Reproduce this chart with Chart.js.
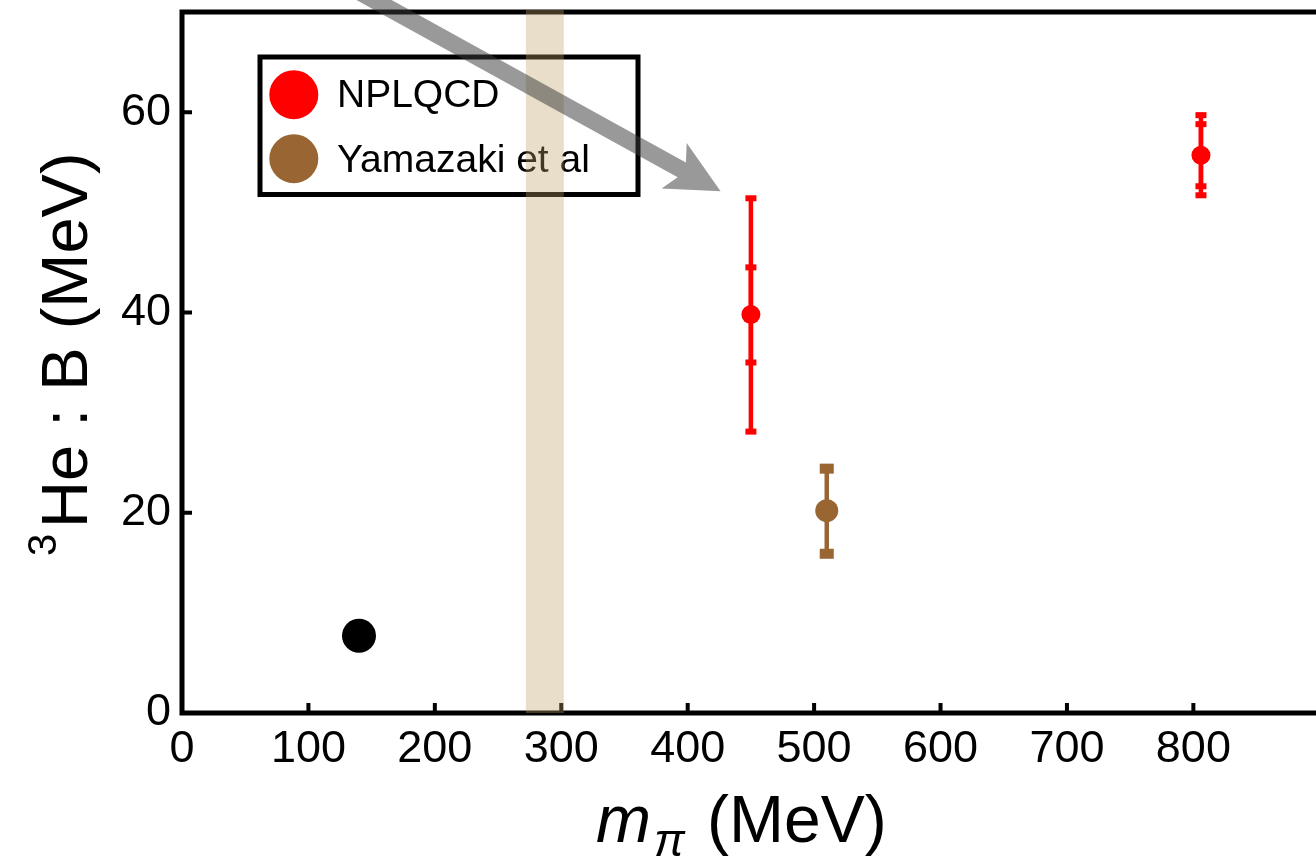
<!DOCTYPE html>
<html>
<head>
<meta charset="utf-8">
<script src="https://cdn.jsdelivr.net/npm/chart.js@4.4.1/dist/chart.umd.min.js"></script>
<style>
  html, body { margin: 0; padding: 0; background: #fff; overflow: hidden; }
  #wrap { width: 1316px; height: 859px; }
</style>
</head>
<body>
<div id="wrap"><canvas id="chart" width="1316" height="859"></canvas></div>
<script>
// data (x = pion mass in MeV, y = 3He binding energy in MeV)
const physX = [140];
const physY = [7.72];

const nplqcdX = [450, 806];
const nplqcdY = [39.8, 55.7];
const nplqcdInnerLo = [35.0, 52.6];
const nplqcdInnerHi = [44.5, 58.8];
const nplqcdOuterLo = [28.1, 51.7];
const nplqcdOuterHi = [51.4, 59.7];

const yamazakiX = [510];
const yamazakiY = [20.2];
const yamazakiLo = [15.9];
const yamazakiHi = [24.4];

// shaded band and arrow, in data units
const bandX = [272, 302];
const arrowFrom = [126, 73];
const arrowTo = [426, 52.1];

const legendLabels = ["NPLQCD", "Yamazaki et al"];
const legendColors = ["#ff0000", "#996633"];

const xTicks = [0, 100, 200, 300, 400, 500, 600, 700, 800];
const yTicks = [0, 20, 40, 60];

const FONT = "'Liberation Sans', Arial, Helvetica, sans-serif";

function toPts(xs, ys) {
  return xs.map((x, i) => ({ x: x, y: ys[i] }));
}

// error bars, drawn under the points
const errorBars = {
  id: 'errorBars',
  beforeDatasetsDraw(chart) {
    const ctx = chart.ctx;
    const xs = chart.scales.x, ys = chart.scales.y;
    function bar(x, lo, hi, color, capW, capH) {
      const px = xs.getPixelForValue(x);
      const pLo = ys.getPixelForValue(lo), pHi = ys.getPixelForValue(hi);
      ctx.strokeStyle = color;
      ctx.lineWidth = 4.5;
      ctx.beginPath();
      ctx.moveTo(px, pLo);
      ctx.lineTo(px, pHi);
      ctx.stroke();
      ctx.fillStyle = color;
      ctx.fillRect(px - capW / 2, pLo - capH / 2, capW, capH);
      ctx.fillRect(px - capW / 2, pHi - capH / 2, capW, capH);
    }
    ctx.save();
    nplqcdX.forEach((x, i) => {
      bar(x, nplqcdOuterLo[i], nplqcdOuterHi[i], legendColors[0], 11, 6);
      bar(x, nplqcdInnerLo[i], nplqcdInnerHi[i], legendColors[0], 11, 6);
    });
    yamazakiX.forEach((x, i) => {
      bar(x, yamazakiLo[i], yamazakiHi[i], legendColors[1], 14, 10);
    });
    ctx.restore();
  }
};

// frame, inward ticks, legend, band, arrow and axis titles
const decorations = {
  id: 'decorations',
  afterDraw(chart) {
    const ctx = chart.ctx;
    const a = chart.chartArea;
    const xs = chart.scales.x, ys = chart.scales.y;
    ctx.save();

    // frame (right side is off the page)
    ctx.strokeStyle = '#000';
    ctx.lineWidth = 5;
    ctx.beginPath();
    ctx.moveTo(a.right + 10, a.top);
    ctx.lineTo(a.left, a.top);
    ctx.lineTo(a.left, a.bottom);
    ctx.lineTo(a.right + 10, a.bottom);
    ctx.stroke();

    // ticks pointing inwards
    ctx.lineWidth = 4;
    ctx.beginPath();
    xTicks.forEach(v => {
      const px = xs.getPixelForValue(v);
      ctx.moveTo(px, a.bottom);
      ctx.lineTo(px, a.bottom - 10);
    });
    yTicks.forEach(v => {
      const py = ys.getPixelForValue(v);
      ctx.moveTo(a.left, py);
      ctx.lineTo(a.left + 10, py);
    });
    ctx.stroke();

    // legend box
    ctx.lineWidth = 5;
    ctx.strokeRect(260, 57, 378, 137.5);
    ctx.font = '39px ' + FONT;
    ctx.textBaseline = 'alphabetic';
    ctx.textAlign = 'left';
    legendLabels.forEach((lab, i) => {
      const cy = 94.7 + i * 64;
      ctx.fillStyle = legendColors[i];
      ctx.beginPath();
      ctx.arc(293.8, cy, 24.5, 0, Math.PI * 2);
      ctx.fill();
      ctx.fillStyle = '#000';
      ctx.fillText(lab, 337, 106.5 + i * 65);
    });

    // shaded band
    const b0 = xs.getPixelForValue(bandX[0]), b1 = xs.getPixelForValue(bandX[1]);
    ctx.fillStyle = 'rgba(190,160,100,0.35)';
    ctx.fillRect(b0, a.top - 2, b1 - b0, a.bottom - a.top + 2);

    // arrow
    const sx = xs.getPixelForValue(arrowFrom[0]), sy = ys.getPixelForValue(arrowFrom[1]);
    const tx = xs.getPixelForValue(arrowTo[0]), ty = ys.getPixelForValue(arrowTo[1]);
    const L = Math.hypot(tx - sx, ty - sy);
    ctx.translate(tx, ty);
    ctx.rotate(Math.atan2(ty - sy, tx - sx));
    ctx.fillStyle = 'rgba(60,60,60,0.52)';
    ctx.beginPath();
    ctx.moveTo(-L, -8.5);
    ctx.lineTo(-44.3, -8.5);
    ctx.lineTo(-53, -26);
    ctx.lineTo(0, 0);
    ctx.lineTo(-53, 26);
    ctx.lineTo(-44.3, 8.5);
    ctx.lineTo(-L, 8.5);
    ctx.closePath();
    ctx.fill();
    ctx.setTransform(1, 0, 0, 1, 0, 0);

    // x title: m_pi (MeV)
    ctx.fillStyle = '#000';
    ctx.font = 'italic 66px ' + FONT;
    ctx.fillText('m', 596, 842);
    ctx.font = 'italic 46px ' + FONT;
    ctx.fillText('\u03c0', 654, 856);
    ctx.font = '66px ' + FONT;
    ctx.fillText('(MeV)', 707, 842);

    // y title: 3He : B (MeV)
    ctx.translate(87, 556);
    ctx.rotate(-Math.PI / 2);
    ctx.font = '40px ' + FONT;
    ctx.fillText('3', 0, -31);
    ctx.font = '65px ' + FONT;
    ctx.fillText('He : B (MeV)', 28, 0);

    ctx.restore();
  }
};

new Chart(document.getElementById('chart'), {
  type: 'scatter',
  data: {
    datasets: [
      {
        label: 'Physical',
        data: toPts(physX, physY),
        backgroundColor: '#000',
        borderWidth: 0,
        pointRadius: 17
      },
      {
        label: legendLabels[0],
        data: toPts(nplqcdX, nplqcdY),
        backgroundColor: legendColors[0],
        borderWidth: 0,
        pointRadius: 9.5
      },
      {
        label: legendLabels[1],
        data: toPts(yamazakiX, yamazakiY),
        backgroundColor: legendColors[1],
        borderWidth: 0,
        pointRadius: 11.5
      }
    ]
  },
  options: {
    responsive: false,
    animation: false,
    devicePixelRatio: 1,
    layout: { autoPadding: false, padding: { top: 12, left: 0, right: 0, bottom: 0 } },
    plugins: {
      legend: { display: false },
      tooltip: { enabled: false }
    },
    scales: {
      x: {
        type: 'linear',
        min: 0,
        max: 897,
        grid: { display: false, drawTicks: false },
        border: { display: false },
        ticks: {
          autoSkip: false,
          maxRotation: 0,
          minRotation: 0,
          padding: 10,
          color: '#000',
          font: { family: FONT, size: 45 }
        },
        afterBuildTicks: s => { s.ticks = xTicks.map(v => ({ value: v })); },
        afterFit: s => {
          s.height = 146;
          s.paddingLeft = 0;
          s.paddingRight = 0;
        }
      },
      y: {
        type: 'linear',
        min: 0,
        max: 70,
        grid: { display: false, drawTicks: false },
        border: { display: false },
        ticks: {
          padding: 11,
          color: '#000',
          font: { family: FONT, size: 45 }
        },
        afterBuildTicks: s => { s.ticks = yTicks.map(v => ({ value: v })); },
        afterFit: s => {
          s.width = 182;
          s.paddingTop = 0;
          s.paddingBottom = 0;
        }
      }
    }
  },
  plugins: [errorBars, decorations]
});
</script>
</body>
</html>
